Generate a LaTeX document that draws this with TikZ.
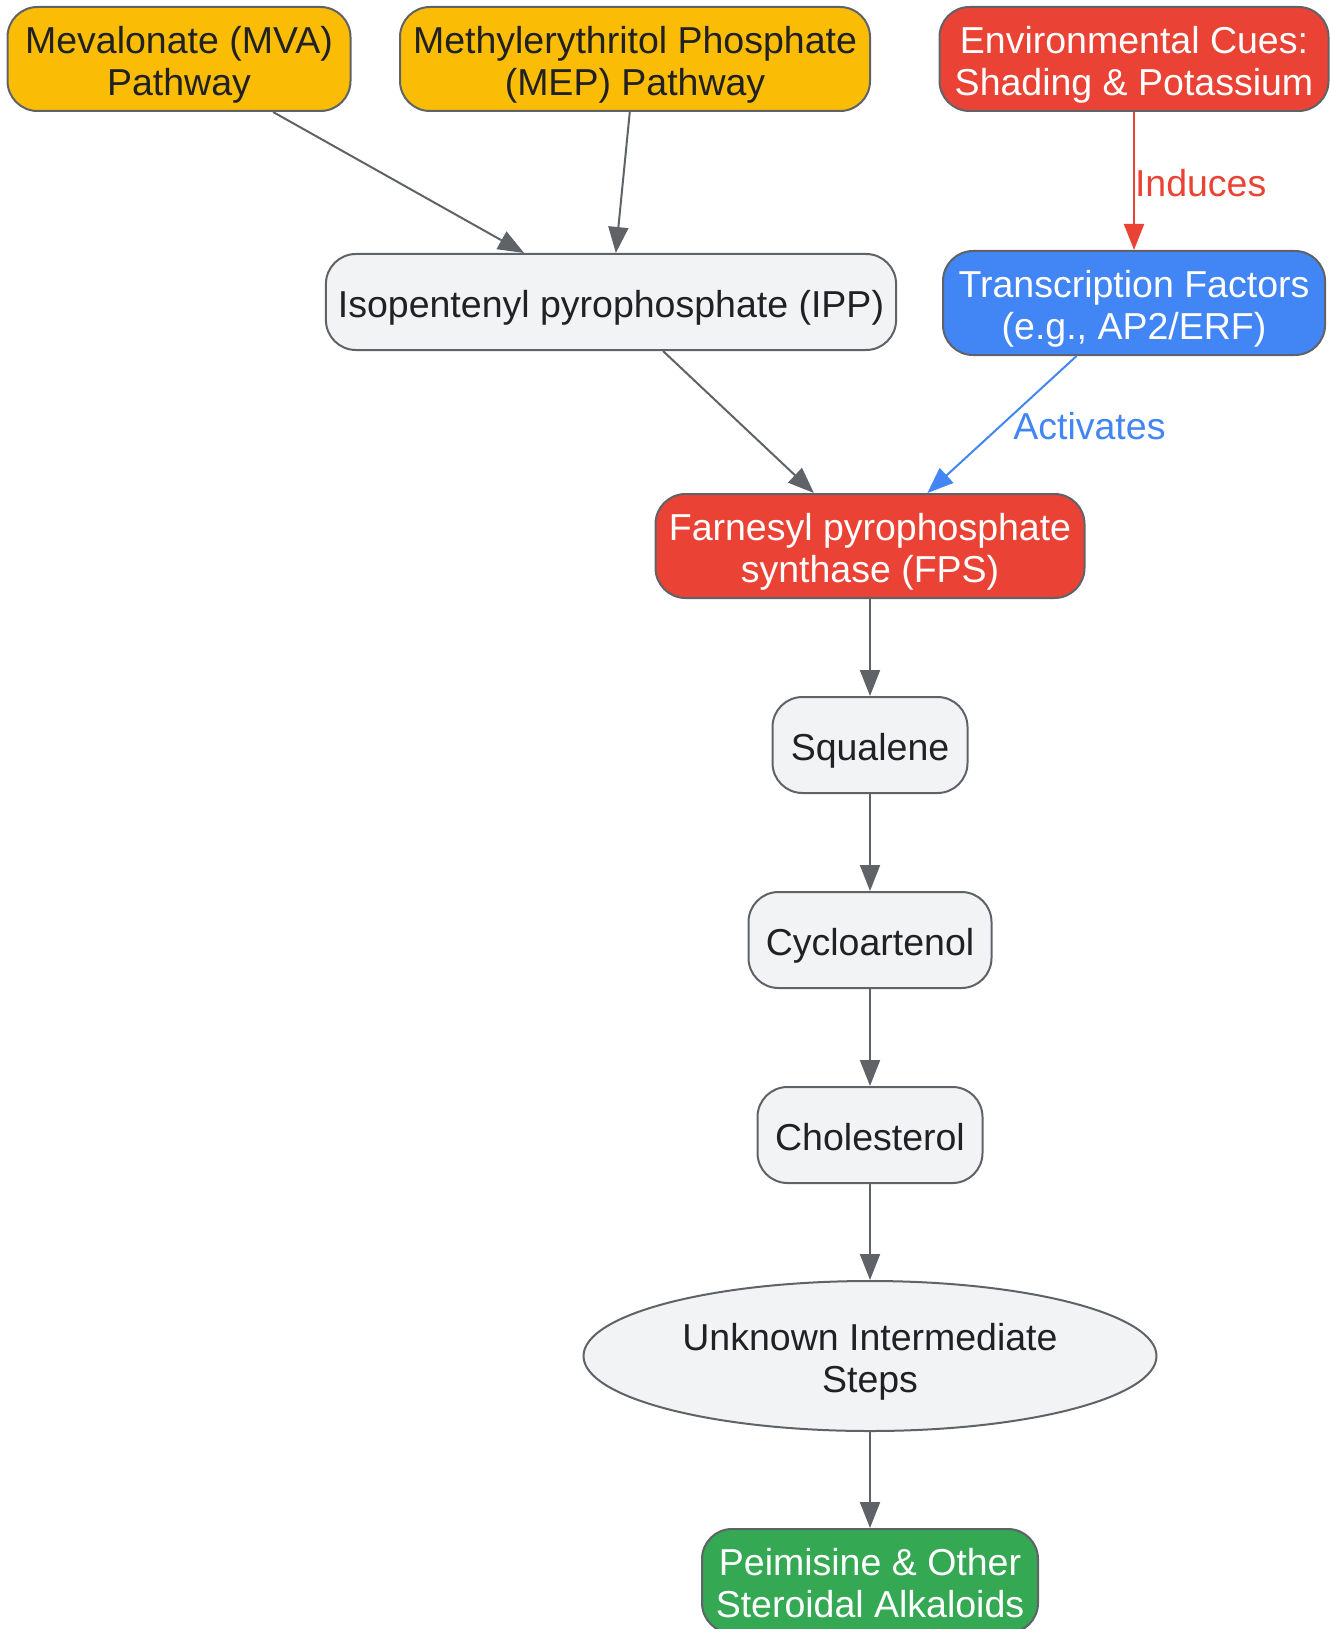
\documentclass[tikz,border=0pt]{standalone}
\usepackage{fontspec}
\setmainfont{Liberation Sans}
\usetikzlibrary{arrows.meta,shapes.geometric}
\definecolor{gyellow}{HTML}{FBBC05}
\definecolor{gred}{HTML}{EA4335}
\definecolor{gblue}{HTML}{4285F4}
\definecolor{ggreen}{HTML}{34A853}
\definecolor{ggray}{HTML}{F1F3F4}
\definecolor{gline}{HTML}{5F6368}
\definecolor{gtext}{HTML}{202124}
\begin{document}
\begin{tikzpicture}[x=1pt,y=-1pt,
  box/.style={draw=gline,line width=2pt,rounded corners=30pt,align=center,
    font=\fontsize{37.5}{41.5}\selectfont,inner xsep=12pt,inner ysep=0pt,minimum height=104pt,
    text height=80.5pt,text depth=8pt},
  plain/.style={box,fill=ggray,text=gtext,minimum height=96pt,text height=39pt},
  yellowbox/.style={box,fill=gyellow,text=gtext},
  redbox/.style={box,fill=gred,text=white},
  bluebox/.style={box,fill=gblue,text=white},
  greenbox/.style={box,fill=ggreen,text=white},
  flow/.style={draw=gline,line width=2pt,-{Triangle[length=26pt,width=20pt]}},
  lbl/.style={font=\fontsize{37.5}{41.5}\selectfont}]
\useasboundingbox (0,0) rectangle (1330,1629);
% Vorstufen
\node[yellowbox,minimum width=343pt] (mva) at (179,59) {Mevalonate (MVA)\\Pathway};
\node[yellowbox,minimum width=470pt] (mep) at (635,59) {Methylerythritol Phosphate\\(MEP) Pathway};
\node[redbox,minimum width=389pt] (env) at (1134,59) {Environmental Cues:\\Shading \& Potassium};
\node[plain,minimum width=568pt] (ipp) at (611,302) {Isopentenyl pyrophosphate (IPP)};
\node[bluebox,minimum width=382pt] (tf) at (1134,303) {Transcription Factors\\(e.g., AP2/ERF)};
% Hauptweg
\node[redbox,minimum width=429pt] (fps) at (870,546) {Farnesyl pyrophosphate\\synthase (FPS)};
\node[plain,minimum width=195pt] (sq) at (870,745) {Squalene};
\node[plain,minimum width=243pt] (cyc) at (870,940) {Cycloartenol};
\node[plain,minimum width=225pt] (chol) at (870,1135) {Cholesterol};
\node[draw=gline,line width=2pt,fill=ggray,text=gtext,ellipse,align=center,
  font=\fontsize{37.5}{41.5}\selectfont,inner sep=0pt,text height=80.5pt,text depth=8pt,
  minimum width=573pt,minimum height=150pt] (unk) at (870,1356) {Unknown Intermediate\\Steps};
\node[greenbox,minimum width=336pt] (peim) at (870,1581) {Peimisine \& Other\\Steroidal Alkaloids};
% Pfeile
\draw[flow] (mva) -- (ipp);
\draw[flow] (mep) -- (ipp);
\draw[flow] (ipp) -- (fps);
\draw[flow,draw=gred] (env) -- node[lbl,text=gred,anchor=west,inner xsep=0pt,pos=0.55,yshift=5pt] {Induces} (tf);
\draw[flow,draw=gblue] (tf) -- node[lbl,text=gblue,pos=0.45,xshift=80pt,yshift=-8pt] {Activates} (fps);
\draw[flow] (fps) -- (sq);
\draw[flow] (sq) -- (cyc);
\draw[flow] (cyc) -- (chol);
\draw[flow] (chol) -- (unk);
\draw[flow] (unk) -- (peim);
\end{tikzpicture}
\end{document}
